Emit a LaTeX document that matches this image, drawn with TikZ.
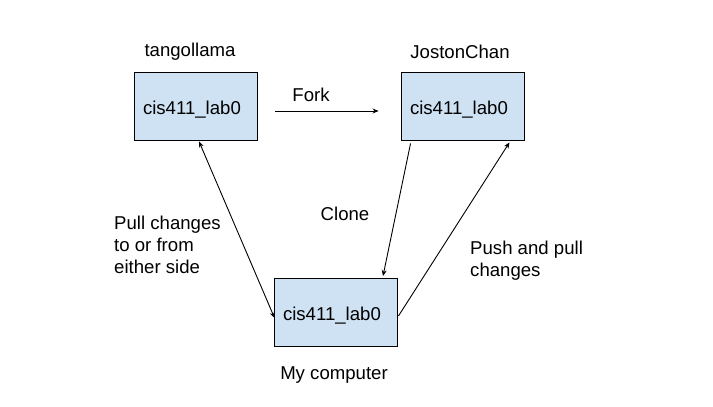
\documentclass[tikz,border=0pt]{standalone}
\usepackage{fontspec}
\setmainfont{Liberation Sans}
\usetikzlibrary{arrows.meta,calc}
\definecolor{boxfill}{HTML}{CFE2F3}
\tikzset{
  repo/.style={draw=black, fill=boxfill, line width=0.9pt, minimum width=123pt, minimum height=68pt, inner xsep=9pt, inner ysep=0pt, text width=105pt, text height=16pt, text depth=0pt, align=left, font=\fontsize{18.6}{21.5}\selectfont},
  lbl/.style={inner sep=0pt, font=\fontsize{18.6}{22}\selectfont},
  conn/.style={line width=0.9pt, -{Stealth[length=6pt,width=5pt]}},
  bconn/.style={line width=0.9pt, {Stealth[length=6pt,width=5pt]}-{Stealth[length=6pt,width=5pt]}}
}
\begin{document}
\begin{tikzpicture}[x=1pt,y=-1pt]
\useasboundingbox (0,0) rectangle (713,407);
\fill[white] (0,0) rectangle (713,407);
\node[repo] (tango) at (195.5,106) {cis411\_lab0};
\node[repo] (joston) at (462.5,106) {cis411\_lab0};
\node[repo] (mine) at (335.5,312.5) {cis411\_lab0};
\node[lbl] (tname) at (190,52) {tangollama};
\node[lbl] (jname) at (460,52) {JostonChan};
\node[lbl] (mname) at (334,375) {My computer};
\node[lbl] (fork) at (311,95) {Fork};
\node[lbl] (clone) at (345,214) {Clone};
\node[lbl, align=left, anchor=north west] (pull) at (114,216) {Pull changes\\to or from\\either side};
\node[lbl, align=left, anchor=north west] (push) at (470,241) {Push and pull\\changes};
\coordinate (f1) at ($(tango.east)+(18,5)$);
\coordinate (f2) at ($(joston.west)+(-22,5)$);
\coordinate (t1) at ($(tango.south)+(3.5,1)$);
\coordinate (m1) at ($(mine.west)+(1,5.5)$);
\coordinate (j1) at ($(joston.south west)+(10,3)$);
\coordinate (m2) at ($(mine.north)+(47.5,-2)$);
\coordinate (m3) at ($(mine.east)+(1,3.5)$);
\coordinate (j2) at ($(joston.south east)+(-15,2)$);
\draw[conn] (f1) -- (f2);
\draw[bconn] (t1) -- (m1);
\draw[conn] (j1) -- (m2);
\draw[conn] (m3) -- (j2);
\end{tikzpicture}
\end{document}
